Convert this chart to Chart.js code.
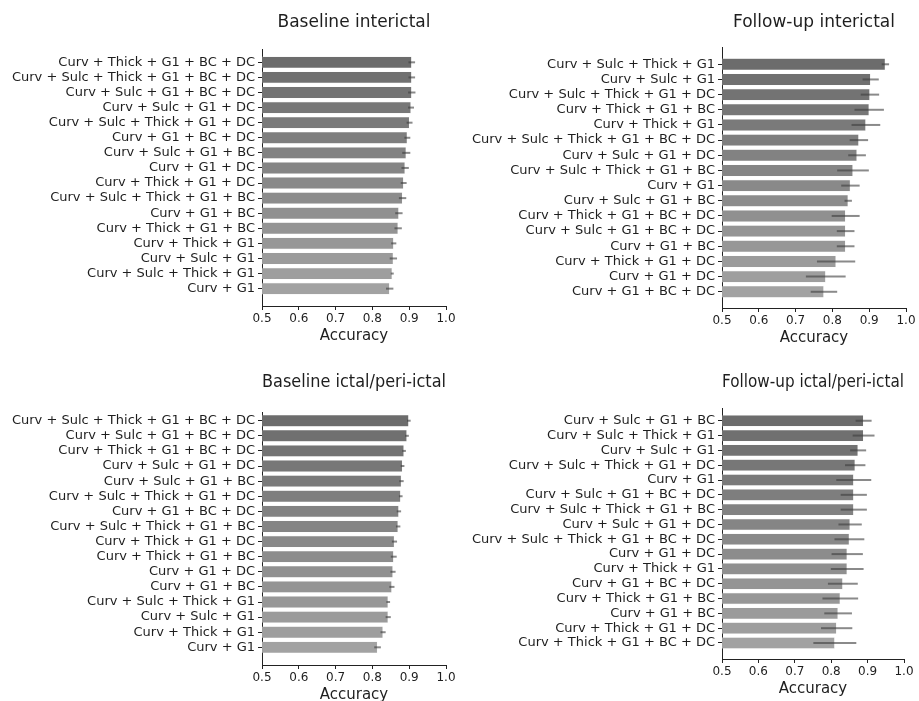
<!DOCTYPE html>
<html>
<head>
<meta charset="utf-8">
<script src="https://cdn.jsdelivr.net/npm/chart.js@4.4.0/dist/chart.umd.min.js"></script>
<style>
  html, body { margin: 0; padding: 0; background: #fff; overflow: hidden; }
  #wrap { position: relative; width: 919px; height: 701px; overflow: hidden; }
  canvas { position: absolute; }
</style>
</head>
<body>
<div id="wrap">
  <canvas id="c1"></canvas>
  <canvas id="c2"></canvas>
  <canvas id="c3"></canvas>
  <canvas id="c4"></canvas>
</div>
<script>
// ---------------- DATA ----------------
const titleBI = "Baseline interictal";
const labelsBI = [
  "Curv + Thick + G1 + BC + DC",
  "Curv + Sulc + Thick + G1 + BC + DC",
  "Curv + Sulc + G1 + BC + DC",
  "Curv + Sulc + G1 + DC",
  "Curv + Sulc + Thick + G1 + DC",
  "Curv + G1 + BC + DC",
  "Curv + Sulc + G1 + BC",
  "Curv + G1 + DC",
  "Curv + Thick + G1 + DC",
  "Curv + Sulc + Thick + G1 + BC",
  "Curv + G1 + BC",
  "Curv + Thick + G1 + BC",
  "Curv + Thick + G1",
  "Curv + Sulc + G1",
  "Curv + Sulc + Thick + G1",
  "Curv + G1"
];
const accBI = [0.907, 0.907, 0.907, 0.905, 0.901, 0.895, 0.892, 0.889, 0.885, 0.882, 0.872, 0.870, 0.858, 0.857, 0.854, 0.847];
const errBI = [0.009, 0.009, 0.010, 0.008, 0.008, 0.008, 0.011, 0.010, 0.008, 0.010, 0.010, 0.010, 0.007, 0.010, 0.004, 0.010];

const titleFI = "Follow-up interictal";
const labelsFI = [
  "Curv + Sulc + Thick + G1",
  "Curv + Sulc + G1",
  "Curv + Sulc + Thick + G1 + DC",
  "Curv + Thick + G1 + BC",
  "Curv + Thick + G1",
  "Curv + Sulc + Thick + G1 + BC + DC",
  "Curv + Sulc + G1 + DC",
  "Curv + Sulc + Thick + G1 + BC",
  "Curv + G1",
  "Curv + Sulc + G1 + BC",
  "Curv + Thick + G1 + BC + DC",
  "Curv + Sulc + G1 + BC + DC",
  "Curv + G1 + BC",
  "Curv + Thick + G1 + DC",
  "Curv + G1 + DC",
  "Curv + G1 + BC + DC"
];
const accFI = [0.944, 0.904, 0.902, 0.900, 0.891, 0.872, 0.867, 0.856, 0.849, 0.843, 0.836, 0.836, 0.836, 0.810, 0.782, 0.777];
const errFI = [0.010, 0.022, 0.025, 0.040, 0.039, 0.025, 0.024, 0.043, 0.025, 0.010, 0.038, 0.024, 0.024, 0.052, 0.054, 0.036];

const titleBP = "Baseline ictal/peri-ictal";
const labelsBP = [
  "Curv + Sulc + Thick + G1 + BC + DC",
  "Curv + Sulc + G1 + BC + DC",
  "Curv + Thick + G1 + BC + DC",
  "Curv + Sulc + G1 + DC",
  "Curv + Sulc + G1 + BC",
  "Curv + Sulc + Thick + G1 + DC",
  "Curv + G1 + BC + DC",
  "Curv + Sulc + Thick + G1 + BC",
  "Curv + Thick + G1 + DC",
  "Curv + Thick + G1 + BC",
  "Curv + G1 + DC",
  "Curv + G1 + BC",
  "Curv + Sulc + Thick + G1",
  "Curv + Sulc + G1",
  "Curv + Thick + G1",
  "Curv + G1"
];
const accBP = [0.899, 0.894, 0.886, 0.882, 0.879, 0.877, 0.872, 0.870, 0.860, 0.858, 0.856, 0.853, 0.843, 0.843, 0.829, 0.814];
const errBP = [0.005, 0.005, 0.005, 0.005, 0.006, 0.005, 0.006, 0.006, 0.007, 0.008, 0.007, 0.007, 0.005, 0.007, 0.007, 0.009];

const titleFP = "Follow-up ictal/peri-ictal";
const labelsFP = [
  "Curv + Sulc + G1 + BC",
  "Curv + Sulc + Thick + G1",
  "Curv + Sulc + G1",
  "Curv + Sulc + Thick + G1 + DC",
  "Curv + G1",
  "Curv + Sulc + G1 + BC + DC",
  "Curv + Sulc + Thick + G1 + BC",
  "Curv + Sulc + G1 + DC",
  "Curv + Sulc + Thick + G1 + BC + DC",
  "Curv + G1 + DC",
  "Curv + Thick + G1",
  "Curv + G1 + BC + DC",
  "Curv + Thick + G1 + BC",
  "Curv + G1 + BC",
  "Curv + Thick + G1 + DC",
  "Curv + Thick + G1 + BC + DC"
];
const accFP = [0.889, 0.889, 0.874, 0.866, 0.862, 0.862, 0.862, 0.852, 0.850, 0.844, 0.844, 0.832, 0.825, 0.819, 0.815, 0.810];
const errFP = [0.022, 0.030, 0.022, 0.028, 0.048, 0.036, 0.036, 0.032, 0.041, 0.043, 0.045, 0.041, 0.049, 0.038, 0.043, 0.059];

const xTicks = [0.5, 0.6, 0.7, 0.8, 0.9, 1.0];
const xTitle = "Accuracy";

// ---------------- STYLE / LAYOUT ----------------
const FONT = "'DejaVu Sans', 'Liberation Sans', sans-serif";
const TEXT = "#1e1e1e";

function shade(i, n) {
  const c = Math.round(108 + (162 - 108) * i / (n - 1));
  return `rgb(${c},${c},${c})`;
}

const errorBars = {
  id: 'errbars',
  afterDatasetsDraw(chart, args, opts) {
    const { ctx, scales: { x, y } } = chart;
    ctx.save();
    ctx.strokeStyle = 'rgba(60,60,60,0.6)';
    ctx.lineWidth = 2;
    opts.values.forEach((v, i) => {
      const e = opts.errors[i];
      const py = y.getPixelForValue(i);
      ctx.beginPath();
      ctx.moveTo(x.getPixelForValue(v - e), py);
      ctx.lineTo(x.getPixelForValue(v + e), py);
      ctx.stroke();
    });
    ctx.restore();
  }
};

function makeChart(id, geo, title, labels, acc, err) {
  const cv = document.getElementById(id);
  cv.style.left = geo.left + 'px';
  cv.style.top = geo.top + 'px';
  cv.width = geo.w; cv.height = geo.h;
  cv.style.width = geo.w + 'px'; cv.style.height = geo.h + 'px';
  const n = labels.length;
  return new Chart(cv, {
    type: 'bar',
    data: {
      datasets: [{
        data: acc.map((v, i) => ({ x: v, y: i })),
        backgroundColor: labels.map((_, i) => shade(i, n)),
        borderColor: 'rgba(225,225,225,0.35)',
        borderWidth: 0.6,
        borderSkipped: false,
        barPercentage: 1.0,
        categoryPercentage: 0.8
      }]
    },
    options: {
      indexAxis: 'y',
      responsive: false,
      animation: false,
      devicePixelRatio: 1,
      layout: { padding: { top: geo.padTop, right: geo.padRight, left: 0, bottom: 0 } },
      plugins: {
        legend: { display: false },
        tooltip: { enabled: false },
        title: {
          display: true,
          text: title,
          fullSize: false,
          color: TEXT,
          font: { family: FONT, size: 17, weight: 'normal', lineHeight: 1.2 },
          padding: { top: 0, bottom: geo.titleGap }
        },
        errbars: { values: acc, errors: err }
      },
      scales: {
        x: {
          type: 'linear',
          min: 0.5, max: 1.0,
          offset: false,
          afterBuildTicks: (s) => { s.ticks = xTicks.map(v => ({ value: v })); },
          afterFit: (s) => { s.height = 45; },
          ticks: {
            color: TEXT,
            font: { family: FONT, size: 12 },
            padding: 2,
            maxRotation: 0,
            callback: (v) => Number(v).toFixed(1)
          },
          grid: { drawOnChartArea: false, drawTicks: true, tickLength: 4, color: '#222', tickWidth: 1, offset: false },
          border: { display: true, color: '#222', width: 1 },
          title: {
            display: true, text: xTitle, color: TEXT,
            font: { family: FONT, size: 15, lineHeight: 1.2 },
            padding: { top: 0, bottom: 6 }
          }
        },
        y: {
          type: 'linear',
          reverse: true,
          offset: false,
          min: geo.yMin, max: geo.yMax,
          afterBuildTicks: (s) => { s.ticks = labels.map((_, i) => ({ value: i })); },
          afterFit: (s) => { s.width = geo.axisW; },
          ticks: {
            autoSkip: false,
            color: TEXT,
            font: { family: FONT, size: 13 },
            padding: 3,
            callback: (v) => labels[v]
          },
          grid: { drawOnChartArea: false, drawTicks: true, tickLength: 4, color: '#222', tickWidth: 1, offset: false },
          border: { display: true, color: '#222', width: 1 }
        }
      }
    },
    plugins: [errorBars]
  });
}

Chart.defaults.font.family = FONT;

makeChart('c1', { left: 0, top: 0, w: 459, h: 351, axisW: 262, padRight: 13, padTop: 12.5, titleGap: 16.6, yMin: -0.85, yMax: 16.15 },
  titleBI, labelsBI, accBI, errBI);
makeChart('c2', { left: 460, top: 0, w: 459, h: 353, axisW: 262, padRight: 13, padTop: 12.3, titleGap: 14.3, yMin: -1.14, yMax: 16.07 },
  titleFI, labelsFI, accFI, errFI);
makeChart('c3', { left: 0, top: 360, w: 459, h: 350, axisW: 262, padRight: 13, padTop: 12.8, titleGap: 19.5, yMin: -0.53, yMax: 16.17 },
  titleBP, labelsBP, accBP, errBP);
makeChart('c4', { left: 460, top: 360, w: 459, h: 344, axisW: 262, padRight: 15, padTop: 12.8, titleGap: 15.1, yMin: -0.84, yMax: 16.08 },
  titleFP, labelsFP, accFP, errFP);
</script>
</body>
</html>
